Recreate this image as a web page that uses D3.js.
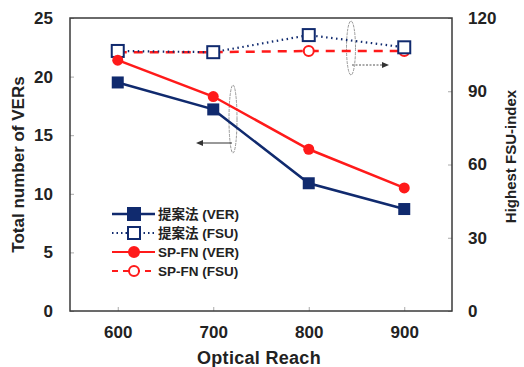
<!DOCTYPE html>
<html><head><meta charset="utf-8">
<script src="https://cdn.jsdelivr.net/npm/d3@7"></script>
<style>body{margin:0;background:#fff}svg{display:block}text{font-family:Arial,"Liberation Sans",sans-serif}</style>
</head><body><svg id="c" width="524" height="367"></svg>
<script>
const reach = [600, 700, 800, 900];
const propVER = [19.5, 17.2, 10.9, 8.7];
const spfnVER = [21.4, 18.3, 13.8, 10.5];
const propFSU = [106.5, 106, 113, 108];
const spfnFSU = [106, 106, 106.5, 106.5];
const leftTicks = [0, 5, 10, 15, 20, 25];
const rightTicks = [0, 30, 60, 90, 120];
const legendLabels = ["提案法 (VER)", "提案法 (FSU)", "SP-FN (VER)", "SP-FN (FSU)"];

const svg = d3.select("#c");
const L = 70, R = 452, T = 18, B = 311;
const x = d3.scaleLinear().domain([550, 950]).range([L, R]);
const yL = d3.scaleLinear().domain([0, 25]).range([B, T]);
const yR = d3.scaleLinear().domain([0, 120]).range([B, T]);
const navy = "#102a6e", red = "#ff1a1a", txt = "#222";

const gx = svg.append("g").attr("transform", `translate(0,${B})`)
  .call(d3.axisBottom(x).tickValues(reach).tickSizeInner(-4).tickSizeOuter(0).tickPadding(15));
const gl = svg.append("g").attr("transform", `translate(${L},0)`)
  .call(d3.axisLeft(yL).tickValues(leftTicks).tickSizeInner(-4).tickSizeOuter(0).tickPadding(17));
const gr = svg.append("g").attr("transform", `translate(${R},0)`)
  .call(d3.axisRight(yR).tickValues(rightTicks).tickSizeInner(-4).tickSizeOuter(0).tickPadding(16));
[gx, gl, gr].forEach(g => {
  g.select(".domain").remove();
  g.selectAll(".tick line").attr("stroke", "#aaa");
  g.selectAll("text").attr("font-size", 17).attr("font-weight", "bold").attr("fill", txt);
});
svg.append("rect").attr("x", L).attr("y", T).attr("width", R - L).attr("height", B - T)
  .attr("fill", "none").attr("stroke", "#3a3a3a").attr("stroke-width", 1.5);

svg.append("text").attr("transform", `translate(24,${(T + B) / 2}) rotate(-90)`)
  .attr("text-anchor", "middle").attr("font-size", 17).attr("font-weight", "bold").attr("fill", txt)
  .text("Total number of VERs");
svg.append("text").attr("transform", `translate(516,${(T + B) / 2 - 8}) rotate(-90)`)
  .attr("text-anchor", "middle").attr("font-size", 15).attr("font-weight", "bold").attr("fill", txt)
  .text("Highest FSU-index");
svg.append("text").attr("x", 259).attr("y", 364).attr("text-anchor", "middle")
  .attr("font-size", 18).attr("font-weight", "bold").attr("letter-spacing", 0.3).attr("fill", txt).text("Optical Reach");

svg.append("ellipse").attr("cx", 233).attr("cy", 119).attr("rx", 4).attr("ry", 34)
  .attr("fill", "none").attr("stroke", "#999").attr("stroke-width", 1).attr("stroke-dasharray", "3,1");
svg.append("line").attr("x1", 232).attr("y1", 143).attr("x2", 200).attr("y2", 143)
  .attr("stroke", "#333").attr("stroke-width", 1);
svg.append("path").attr("d", "M196,143 L203,140 L203,146 Z").attr("fill", "#333");
svg.append("ellipse").attr("cx", 351).attr("cy", 48).attr("rx", 4.5).attr("ry", 27)
  .attr("fill", "none").attr("stroke", "#999").attr("stroke-width", 1).attr("stroke-dasharray", "3,1");
svg.append("line").attr("x1", 352).attr("y1", 65).attr("x2", 384).attr("y2", 65)
  .attr("stroke", "#555").attr("stroke-width", 1).attr("stroke-dasharray", "2,1.5");
svg.append("path").attr("d", "M389,65 L382,62 L382,68 Z").attr("fill", "#333");

const lineL = d3.line().x((d, i) => x(reach[i])).y(d => yL(d));
const lineR = d3.line().x((d, i) => x(reach[i])).y(d => yR(d));

svg.append("path").attr("d", lineR(spfnFSU)).attr("fill", "none").attr("stroke", red)
  .attr("stroke-width", 2.5).attr("stroke-dasharray", "9,7");
svg.append("path").attr("d", lineR(propFSU)).attr("fill", "none").attr("stroke", navy)
  .attr("stroke-width", 2.2).attr("stroke-dasharray", "1.5,3.5");
svg.selectAll(".cf").data(spfnFSU).join("circle").attr("cx", (d, i) => x(reach[i])).attr("cy", d => yR(d))
  .attr("r", 5).attr("fill", "#fff").attr("stroke", red).attr("stroke-width", 2);
svg.selectAll(".sf").data(propFSU).join("rect").attr("x", (d, i) => x(reach[i]) - 6).attr("y", d => yR(d) - 6)
  .attr("width", 12).attr("height", 12).attr("fill", "#fff").attr("stroke", navy).attr("stroke-width", 2);

svg.append("path").attr("d", lineL(spfnVER)).attr("fill", "none").attr("stroke", red).attr("stroke-width", 2.5);
svg.append("path").attr("d", lineL(propVER)).attr("fill", "none").attr("stroke", navy).attr("stroke-width", 2.5);
svg.selectAll(".cv").data(spfnVER).join("circle").attr("cx", (d, i) => x(reach[i])).attr("cy", d => yL(d))
  .attr("r", 5.5).attr("fill", red);
svg.selectAll(".sv").data(propVER).join("rect").attr("x", (d, i) => x(reach[i]) - 6).attr("y", d => yL(d) - 6)
  .attr("width", 12).attr("height", 12).attr("fill", navy);

const ly = [214, 233, 252, 271];
const styles = [
  {c: navy, dash: null, w: 2.5, m: "sq", fill: navy},
  {c: navy, dash: "1.5,3", w: 2, m: "sq", fill: "#fff"},
  {c: red, dash: null, w: 2, m: "ci", fill: red},
  {c: red, dash: "6,5", w: 2, m: "ci", fill: "#fff"}
];
legendLabels.forEach((lab, i) => {
  const s = styles[i], y = ly[i];
  svg.append("line").attr("x1", 112).attr("x2", 155).attr("y1", y).attr("y2", y)
    .attr("stroke", s.c).attr("stroke-width", s.w).attr("stroke-dasharray", s.dash);
  if (s.m === "sq") svg.append("rect").attr("x", 128).attr("y", y - 6).attr("width", 12).attr("height", 12)
    .attr("fill", s.fill).attr("stroke", s.c).attr("stroke-width", 2);
  else svg.append("circle").attr("cx", 134).attr("cy", y).attr("r", 5).attr("fill", s.fill)
    .attr("stroke", s.c).attr("stroke-width", 2);
  svg.append("text").attr("x", 158).attr("y", y + 5).attr("font-size", 13.5).attr("font-weight", "bold")
    .attr("fill", txt).style("font-family", "Arial, 'Noto Sans CJK JP', sans-serif").text(lab);
});
</script></body></html>
